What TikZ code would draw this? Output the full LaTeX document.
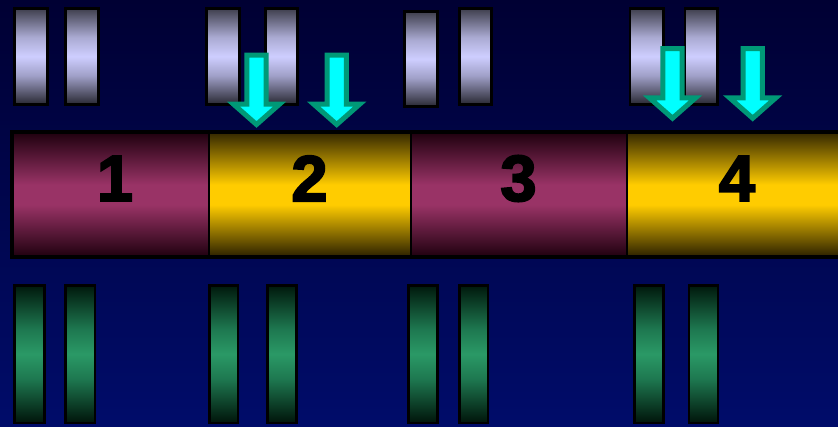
\documentclass[tikz,border=0pt]{standalone}
\usepackage{fontspec}
\setmainfont{Liberation Sans}
\newfontfamily\numfont{Liberation Sans}[BoldFeatures={FakeBold=3}]
\definecolor{bgtop}{HTML}{000033}
\definecolor{bgbot}{HTML}{000C6A}
\definecolor{arrfill}{HTML}{00FFFF}
\definecolor{arrline}{HTML}{009977}
% shadings: 25bp = bottom edge of path, 75bp = top edge
\pgfdeclareverticalshading{lavshade}{100bp}{color(0bp)=(rgb,255:red,40;green,40;blue,50); color(25bp)=(rgb,255:red,40;green,40;blue,50);
  color(40bp)=(rgb,255:red,160;green,160;blue,200); color(50bp)=(rgb,255:red,206;green,206;blue,255);
  color(60bp)=(rgb,255:red,170;green,170;blue,210); color(75bp)=(rgb,255:red,62;green,62;blue,76); color(100bp)=(rgb,255:red,62;green,62;blue,76)}
\pgfdeclareverticalshading{grnshade}{100bp}{color(0bp)=(rgb,255:red,0;green,20;blue,10); color(25bp)=(rgb,255:red,0;green,20;blue,10);
  color(41bp)=(rgb,255:red,30;green,120;blue,80); color(50bp)=(rgb,255:red,42;green,153;blue,102);
  color(59bp)=(rgb,255:red,30;green,120;blue,80); color(75bp)=(rgb,255:red,0;green,24;blue,12); color(100bp)=(rgb,255:red,0;green,24;blue,12)}
\pgfdeclareverticalshading{purpshade}{100bp}{color(0bp)=(rgb,255:red,30;green,0;blue,14); color(25bp)=(rgb,255:red,30;green,0;blue,14);
  color(46bp)=(rgb,255:red,153;green,51;blue,102); color(54bp)=(rgb,255:red,153;green,51;blue,102);
  color(75bp)=(rgb,255:red,30;green,0;blue,14); color(100bp)=(rgb,255:red,30;green,0;blue,14)}
\pgfdeclareverticalshading{yelshade}{100bp}{color(0bp)=(rgb,255:red,40;green,30;blue,0); color(25bp)=(rgb,255:red,40;green,30;blue,0);
  color(46bp)=(rgb,255:red,255;green,204;blue,0); color(54bp)=(rgb,255:red,255;green,204;blue,0);
  color(75bp)=(rgb,255:red,50;green,38;blue,0); color(100bp)=(rgb,255:red,50;green,38;blue,0)}
\tikzset{
  topbar/.style={draw=black,line width=2.7pt,shading=lavshade},
  botbar/.style={draw=black,line width=2.5pt,shading=grnshade},
  purpseg/.style={shading=purpshade},
  yelseg/.style={shading=yelshade},
  numlabel/.style={font=\numfont\fontsize{65}{70}\selectfont\bfseries,text=black,inner sep=0pt},
  dnarrow/.pic={\path[fill=arrfill,draw=arrline,line width=5pt,line join=miter,miter limit=10]
     (-9.7,2.7) -- (9.7,2.7) -- (9.7,51.9) -- (23,51.9) -- (0,72.2) -- (-23,51.9) -- (-9.7,51.9) -- cycle;}
}
\begin{document}
\begin{tikzpicture}[x=1pt,y=-1pt]
\useasboundingbox (0,0) rectangle (838,426);
\shade[top color=bgtop,bottom color=bgbot] (0,0) rectangle (838,426);
% top bars
\foreach \a/\b/\t/\u in {13.3/49/7/105.7, 64/100/7/105.7, 205/241/7/105.7, 264/299/7/105.7,
  403/438.7/10/108, 458/493/7/105.7, 628.7/664.7/7/105.7, 683.7/719/7/105.7}
  \path[topbar] (\a+1.35,\t+1.35) rectangle (\b-1.35,\u-1.35);
% bottom bars
\foreach \a/\b in {13.3/45.7, 64/96, 208/239.3, 266/297.7, 407.3/438.7, 458/489.3, 633/664.7, 687.7/719}
  \path[botbar] (\a+1.25,285.25) rectangle (\b-1.25,422.75);
% main bar
\begin{scope}
\clip (0,0) rectangle (838,426);
\shade[purpseg] (12,132) rectangle (209,257.3);
\shade[yelseg] (209,132) rectangle (410.7,257.3);
\shade[purpseg] (410.7,132) rectangle (627.3,257.3);
\shade[yelseg] (627.3,132) rectangle (845,257.3);
\draw[line width=2pt] (209,132) -- (209,257.3) (410.7,132) -- (410.7,257.3) (627.3,132) -- (627.3,257.3);
\draw[line width=4pt,line join=miter] (845,132) -- (12.3,132) -- (12.3,257.3) -- (845,257.3);
\end{scope}
\node[numlabel] (n1) at (115,178.5) {1};
\node[numlabel] (n2) at (309.5,178.5) {2};
\node[numlabel] (n3) at (518.5,178.5) {3};
\node[numlabel] (n4) at (737,178.5) {4};
% arrows
\pic at (256.5,52.3) {dnarrow};
\pic at (336.7,52.3) {dnarrow};
\pic at (672.5,46) {dnarrow};
\pic at (752.7,46) {dnarrow};
\end{tikzpicture}
\end{document}
